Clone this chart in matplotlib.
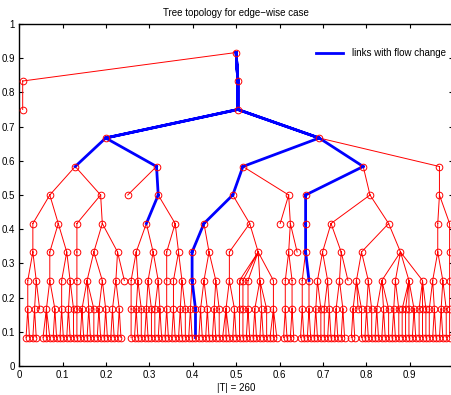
import matplotlib
matplotlib.use("Agg")
import matplotlib.pyplot as plt
from matplotlib.lines import Line2D

plt.rcParams['font.family'] = ['Liberation Sans', 'DejaVu Sans']

# ---- tree data (nested spec: list = internal node, k>=1 = node with k leaves, 0 = leaf)
branch_a = [[[2], [2, 0]]]
branch_b = [[[3, 2]], [[2], [2, 1]]]
chain_17 = [[[1]]]
branch_103 = [[[2, 2, 1], [2, 2]], [[2, 2], 0]]
branch_146 = [[[1], [2, 1]], [[2, 1], [1, 2]]]
branch_175 = [[[2]], [[2], [2, 1]]]
branch_204 = [[[2, 1]], [[2, 2], [2, 1]]]
branch_250 = [[[3, 2]], [[1], [1], [2], [2, 2, 1], [3]]]
branch_d1b = [0, [[[2], [2]], 0]]
branch_d2a = [[[[2], [2]]]]
branch_331 = [[[2, 1], [1, 2]], [[2, 2], 0]]
branch_388 = [[[2, 0, 1], [2, 1]], [[2, 2, 1], [2, 1], [1, 1, 1, 2], [1, 1, 1]]]
branch_p = [[[1, 2], [2, 1]]]
branch_q = [[[1]]]

C1 = [[branch_a, branch_b], [chain_17, branch_103]]
C2 = [0, [branch_146, branch_175]]
D1 = [[branch_204, branch_250], branch_d1b]
D2 = [branch_d2a, [branch_331, branch_388]]
D3 = [[branch_p, branch_q]]
tree_spec = [1, [[[C1, C2], [D1, D2, D3]]]]

# paths (child indices from root) of links with flow change
flow_paths = [
    [1, 0, 0, 0],
    [1, 0, 0, 1, 1, 0],
    [1, 0, 1, 0, 0, 0, 0, 0, 1, 0],
    [1, 0, 1, 1, 0, 0, 0, 1],
]

title_text = "Tree topology for edge\u2212wise case"
xlabel_text = "|T| = 260"
legend_text = "links with flow change"
xticks = [0, 0.1, 0.2, 0.3, 0.4, 0.5, 0.6, 0.7, 0.8, 0.9, 1]
xtick_labels = ["0", "0.1", "0.2", "0.3", "0.4", "0.5", "0.6", "0.7", "0.8", "0.9", ""]
yticks = [0, 0.1, 0.2, 0.3, 0.4, 0.5, 0.6, 0.7, 0.8, 0.9, 1]
ytick_labels = ["0", "0.1", "0.2", "0.3", "0.4", "0.5", "0.6", "0.7", "0.8", "0.9", "1"]

# ---- build tree
depth, parent, children = [], [], []


def add(spec, d, par):
    idx = len(depth)
    depth.append(d)
    parent.append(par)
    children.append([])
    if par is not None:
        children[par].append(idx)
    if isinstance(spec, list):
        for s in spec:
            add(s, d + 1, idx)
    elif spec > 0:
        for _ in range(spec):
            add(0, d + 1, idx)
    return idx


add(tree_spec, 0, None)
n = len(depth)

# ---- MATLAB treelayout-like coordinates
nleaves = 0
xmin = [None] * n
xmax = [None] * n
for i in range(n):
    if not children[i]:
        nleaves += 1
        xmin[i] = xmax[i] = nleaves
for i in range(n - 1, -1, -1):
    if children[i]:
        xmin[i] = min(xmin[c] for c in children[i])
        xmax[i] = max(xmax[c] for c in children[i])
treeht = max(depth)
dx = 1.0 / (nleaves + 1)
dy = 1.0 / (treeht + 2)
X = [dx * (xmin[i] + xmax[i]) / 2 for i in range(n)]
Y = [dy * (treeht + 1 - depth[i]) for i in range(n)]

# ---- figure
fig = plt.figure(figsize=(4.51, 3.95), dpi=100)
W, H = 451.0, 395.0
ax = fig.add_axes([19.3 / W, (H - 366) / H, 433.7 / W, 342 / H])

ex, ey = [], []
for i in range(1, n):
    p = parent[i]
    ex += [X[p], X[i], float('nan')]
    ey += [Y[p], Y[i], float('nan')]
ax.plot(ex, ey, '-', color='red', lw=0.7, zorder=2)

bx, by = [], []
for path in flow_paths:
    node = 0
    for k in path:
        c = children[node][k]
        bx += [X[node], X[c], float('nan')]
        by += [Y[node], Y[c], float('nan')]
        node = c
ax.plot(bx, by, '-', color='blue', lw=2.0, zorder=3)

ax.plot(X, Y, 'o', mec='red', mfc='none', ms=4.8, mew=0.7, ls='none', zorder=4)

ax.set_xlim(0, 1)
ax.set_ylim(0, 1)
ax.set_xticks(xticks)
ax.set_yticks(yticks)
ax.set_xticklabels(xtick_labels)
ax.set_yticklabels(ytick_labels)
ax.tick_params(direction='in', length=3, width=0.8, labelsize=7, top=True, right=True, pad=3)
for s in ax.spines.values():
    s.set_linewidth(1.0)

ax.set_title(title_text, fontsize=7, pad=6)
ax.set_xlabel(xlabel_text, fontsize=7, labelpad=2)

handle = Line2D([0], [0], color='blue', lw=2.0)
ax.legend([handle], [legend_text], loc='center left', frameon=False, fontsize=7,
          bbox_to_anchor=(0.684, 0.914), borderpad=0, borderaxespad=0,
          handlelength=2.75, handletextpad=0.95)

fig.savefig('out.png', dpi=100)
